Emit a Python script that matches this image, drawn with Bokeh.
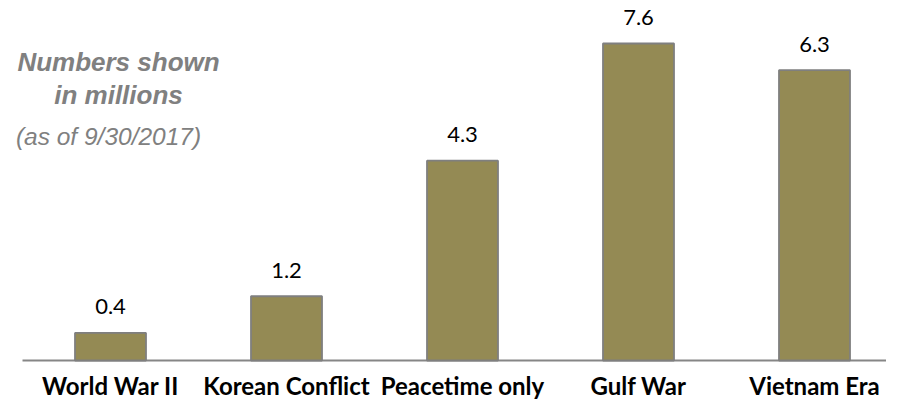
import numpy as np
from bokeh.plotting import figure
from bokeh.models import Range1d, ColumnDataSource, Label
from bokeh.core.properties import value
from bokeh.embed import file_html
from bokeh.resources import INLINE

# ---- data ----
categories = ["World War II", "Korean Conflict", "Peacetime only", "Gulf War", "Vietnam Era"]
value_labels = ["0.4", "1.2", "4.3", "7.6", "6.3"]
# bar heights as drawn in the picture (millions, scaled to the Gulf War bar)
bar_heights = [0.66, 1.54, 4.79, 7.6, 6.96]

W, H = 886, 403
AXIS_LEFT = 22        # where the baseline starts (px)
BASE = 360            # pixel row of the zero line
BAND = 176.0          # px per category
PX_PER_UNIT = (BASE - 43) / 7.6

x_start = -0.5 - AXIS_LEFT / BAND
x_end = x_start + W / BAND
y_start = -(H - BASE) / PX_PER_UNIT
y_end = BASE / PX_PER_UNIT

xs = list(range(len(categories)))
src = ColumnDataSource(dict(x=xs, top=bar_heights, lab=value_labels,
                            cat=categories, zero=[0] * len(xs)))

p = figure(width=W, height=H, output_backend="svg", toolbar_location=None,
           x_range=Range1d(x_start, x_end), y_range=Range1d(y_start, y_end),
           min_border_left=0, min_border_right=0, min_border_top=0,
           min_border_bottom=0)
p.outline_line_color = None
p.grid.visible = False
p.xaxis.visible = False
p.yaxis.visible = False
p.background_fill_color = "white"
p.border_fill_color = "white"

# baseline (category axis line)
p.segment(x0=[-0.5], y0=[0], x1=[x_end], y1=[0], line_color="#868686",
          line_width=2)

p.vbar(x="x", top="top", bottom=0, width=71 / BAND, source=src,
       fill_color="#948A54", line_color="#7F7F7F", line_width=1.8)

p.text(x="x", y="top", text="lab", source=src, y_offset=-26,
       text_align="center", text_baseline="alphabetic",
       text_font=value("Lato"), text_font_size="22px", text_color="#000000")

p.text(x="x", y="zero", text="cat", source=src, y_offset=25,
       text_align="center", text_baseline="alphabetic",
       text_font=value("Lato"), text_font_style="bold",
       text_font_size="24px", text_color="#000000")

def dx(px):
    return x_start + px / BAND

def dy(py):
    return (BASE - py) / PX_PER_UNIT

for txt, px, py, style, size in [
    ("Numbers shown", 118, 61, "bold italic", "26px"),
    ("in millions", 118, 94, "bold italic", "26px"),
    ("(as of 9/30/2017)", 108, 136, "italic", "24.5px"),
]:
    p.add_layout(Label(x=dx(px), y=dy(py), text=txt, text_align="center",
                       text_baseline="alphabetic", text_font="Liberation Sans",
                       text_font_style=style, text_font_size=size,
                       text_color="#808080"))

open("out.html", "w").write(file_html(p, INLINE))
